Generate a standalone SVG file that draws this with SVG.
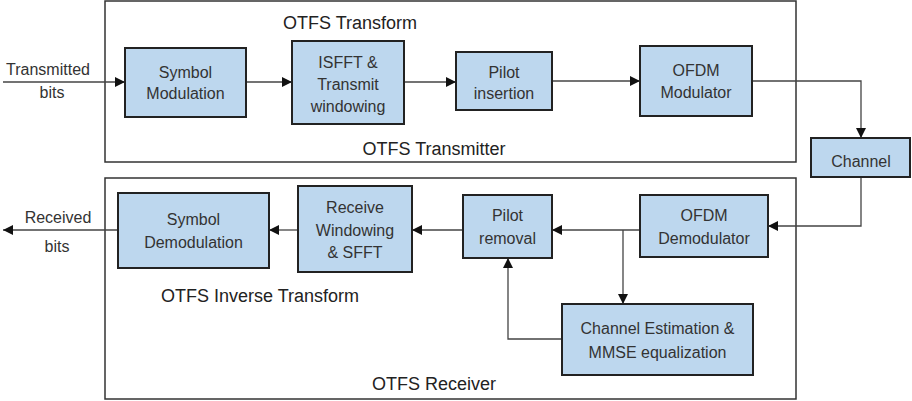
<svg xmlns="http://www.w3.org/2000/svg" width="912" height="401" viewBox="0 0 912 401">
<style>
.frame{fill:#fff;stroke:#333;stroke-width:1.5}
.blk{fill:#bdd7ee;stroke:#222;stroke-width:2}
.t{font-family:"Liberation Sans",Arial,sans-serif;font-size:16px;fill:#333;text-anchor:middle}
.tt{font-family:"Liberation Sans",Arial,sans-serif;font-size:18px;fill:#222;text-anchor:middle}
.c{fill:none;stroke:#444;stroke-width:1.3}
</style>
<defs>
<marker id="ah" viewBox="0 0 10 10" refX="10" refY="5" markerWidth="10" markerHeight="10" markerUnits="userSpaceOnUse" orient="auto">
<path d="M0,0 L10,5 L0,10 Z" fill="#111"/>
</marker>
</defs>
<rect width="912" height="401" fill="#fff"/>
<g id="transmitter">
<rect class="frame" x="105" y="1" width="691" height="161"/>
<text class="tt" x="350" y="29">OTFS Transform</text>
<text class="tt" x="434" y="155">OTFS Transmitter</text>
</g>
<g id="receiver">
<rect class="frame" x="105" y="178" width="691" height="221"/>
<text class="tt" x="260" y="302">OTFS Inverse Transform</text>
<text class="tt" x="434" y="390">OTFS Receiver</text>
</g>
<g id="connectors">
<line class="c" x1="3" y1="82" x2="125" y2="82" marker-end="url(#ah)"/>
<line class="c" x1="246" y1="82" x2="292" y2="82" marker-end="url(#ah)"/>
<line class="c" x1="404" y1="82" x2="456" y2="82" marker-end="url(#ah)"/>
<line class="c" x1="552" y1="81" x2="640" y2="81" marker-end="url(#ah)"/>
<polyline class="c" points="752,81 861,81 861,138" marker-end="url(#ah)"/>
<polyline class="c" points="861,177 861,226 768,226" marker-end="url(#ah)"/>
<line class="c" x1="640" y1="230" x2="552" y2="230" marker-end="url(#ah)"/>
<line class="c" x1="623" y1="230" x2="623" y2="304" marker-end="url(#ah)"/>
<polyline class="c" points="562,339 508,339 508,258" marker-end="url(#ah)"/>
<line class="c" x1="463" y1="230" x2="412" y2="230" marker-end="url(#ah)"/>
<line class="c" x1="298" y1="230" x2="269" y2="230" marker-end="url(#ah)"/>
<line class="c" x1="118" y1="230" x2="3" y2="230" marker-end="url(#ah)"/>
<text class="t" x="48" y="75">Transmitted</text>
<text class="t" x="52" y="98">bits</text>
<text class="t" x="58" y="223">Received</text>
<text class="t" x="57" y="252">bits</text>
</g>
<g id="symbol-modulation">
<rect class="blk" x="125" y="48" width="121" height="69"/>
<text class="t" x="185.5" y="78">Symbol</text>
<text class="t" x="185.5" y="99">Modulation</text>
</g>
<g id="isfft">
<rect class="blk" x="292" y="41" width="112" height="83"/>
<text class="t" x="348" y="68">ISFFT &amp;</text>
<text class="t" x="348" y="90">Transmit</text>
<text class="t" x="348" y="112">windowing</text>
</g>
<g id="pilot-insertion">
<rect class="blk" x="456" y="52" width="96" height="58"/>
<text class="t" x="504" y="78">Pilot</text>
<text class="t" x="504" y="99">insertion</text>
</g>
<g id="ofdm-modulator">
<rect class="blk" x="640" y="46" width="112" height="70"/>
<text class="t" x="696" y="76">OFDM</text>
<text class="t" x="696" y="98">Modulator</text>
</g>
<g id="channel">
<rect class="blk" x="811" y="138" width="99" height="39"/>
<text class="t" x="861" y="167">Channel</text>
</g>
<g id="ofdm-demodulator">
<rect class="blk" x="640" y="195" width="128" height="62"/>
<text class="t" x="704" y="221">OFDM</text>
<text class="t" x="704" y="244">Demodulator</text>
</g>
<g id="pilot-removal">
<rect class="blk" x="463" y="195" width="89" height="63"/>
<text class="t" x="507.5" y="221">Pilot</text>
<text class="t" x="507.5" y="244">removal</text>
</g>
<g id="channel-estimation">
<rect class="blk" x="562" y="304" width="191" height="71"/>
<text class="t" x="657.5" y="334">Channel Estimation &amp;</text>
<text class="t" x="657.5" y="358">MMSE equalization</text>
</g>
<g id="receive-windowing">
<rect class="blk" x="298" y="186" width="114" height="86"/>
<text class="t" x="355" y="213">Receive</text>
<text class="t" x="355" y="236">Windowing</text>
<text class="t" x="355" y="258">&amp; SFFT</text>
</g>
<g id="symbol-demodulation">
<rect class="blk" x="118" y="193" width="151" height="75"/>
<text class="t" x="193.5" y="225">Symbol</text>
<text class="t" x="193.5" y="248">Demodulation</text>
</g>
</svg>
